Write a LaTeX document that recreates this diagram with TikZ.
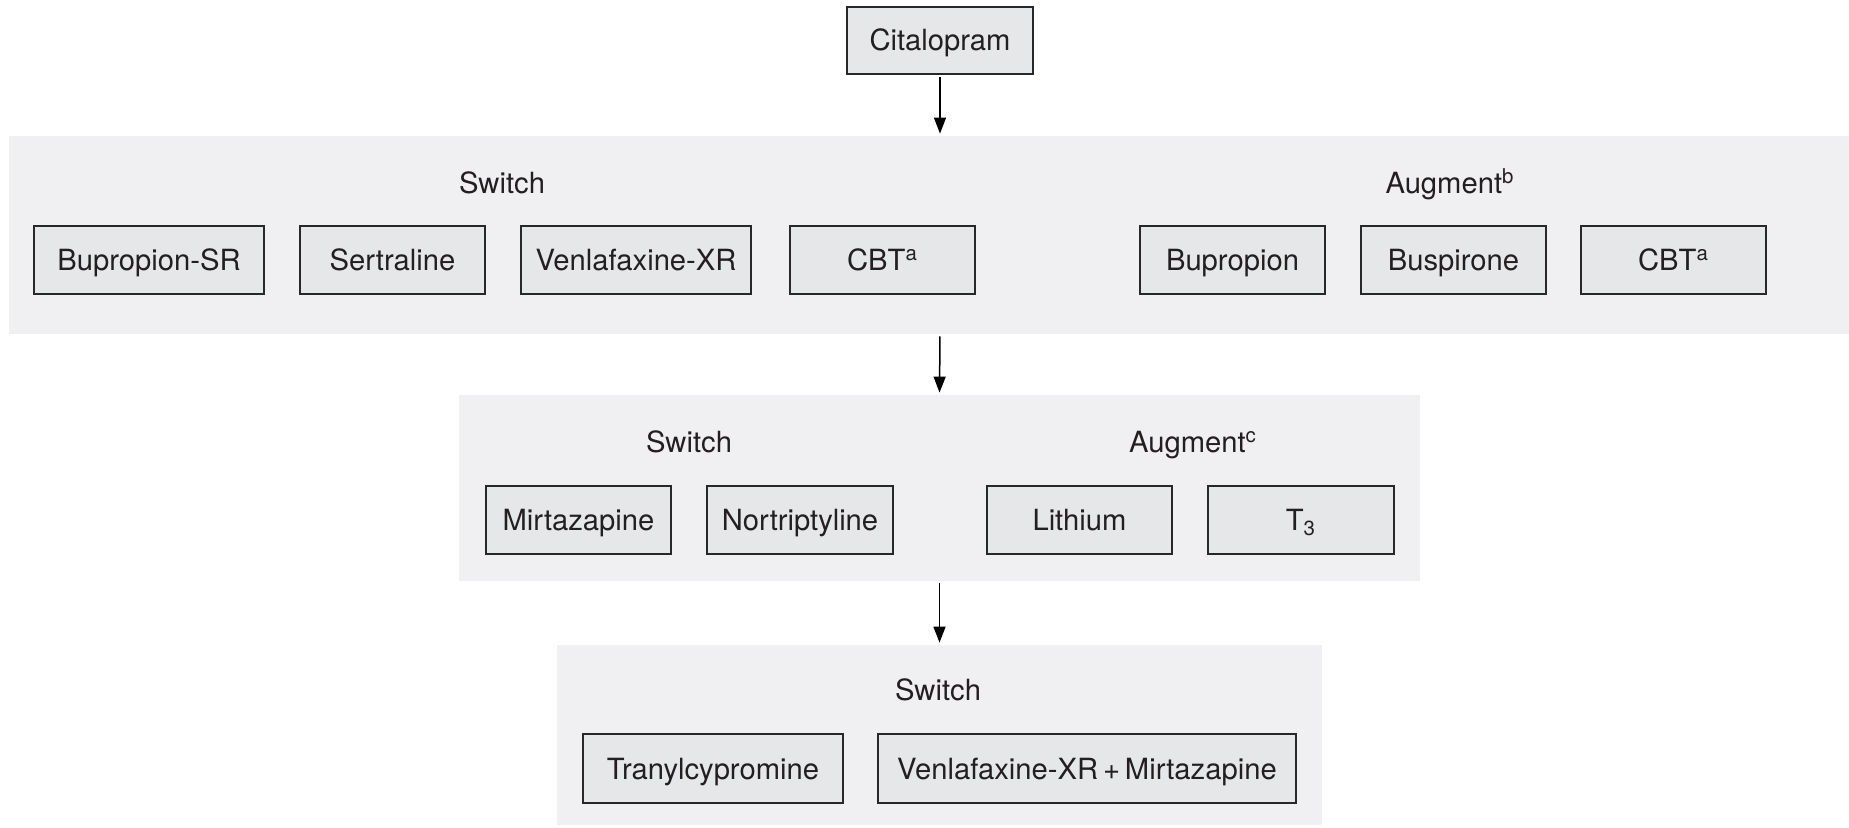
\documentclass[tikz,border=0pt]{standalone}
\usepackage{fontspec}
\setmainfont{TeX Gyre Heros}
\usetikzlibrary{arrows.meta}
\definecolor{bandgray}{RGB}{240,240,242}
\definecolor{boxgray}{RGB}{230,231,233}
\definecolor{edgegray}{RGB}{40,40,40}
\definecolor{inkgray}{RGB}{35,31,32}

\tikzset{
  drug/.style={draw=edgegray,line width=1pt,fill=boxgray,minimum height=34pt,inner sep=0pt,
    text height=10.5pt,text depth=0pt},
  band/.style={fill=bandgray,inner sep=0pt},
  grouplabel/.style={inner sep=0pt,text height=10.5pt,text depth=0pt},
  flow/.style={-{Triangle[length=8pt,width=6pt]},line width=.75pt,shorten <=1pt,shorten >=1pt}
}

\begin{document}
\begin{tikzpicture}[x=.5pt,y=-.5pt,font=\fontsize{14.6}{17}\selectfont,text=inkgray]
    \useasboundingbox (0,0) rectangle (1849,828);
    % grey bands
    \node[band,minimum width=920pt,minimum height=99pt] (b1) at (929,235) {};
    \node[band,minimum width=480.5pt,minimum height=93pt] (b2) at (939.5,488) {};
    \node[band,minimum width=382.5pt,minimum height=90pt] (b3) at (939.5,735) {};
    % start
    \node[drug,minimum width=93pt,minimum height=33.5pt] (cit) at (940,40.5) {Citalopram};
    % first level
    \node[grouplabel] (sw1) at (502,183) {Switch};
    \node[grouplabel] (au1) at (1450,183) {Augment\textsuperscript{b}};
    \node[drug,minimum width=115pt] (bsr) at (149,260) {Bupropion-SR};
    \node[drug,minimum width=92.5pt] (sert) at (392.5,260) {Sertraline};
    \node[drug,minimum width=115pt] (venxr) at (636,260) {Venlafaxine-XR};
    \node[drug,minimum width=92.5pt] (cbtsw) at (882.5,260) {CBT\textsuperscript{a}};
    \node[drug,minimum width=92.5pt] (bup) at (1232.5,260) {Bupropion};
    \node[drug,minimum width=92.5pt] (busp) at (1453.5,260) {Buspirone};
    \node[drug,minimum width=92.5pt] (cbtau) at (1673.5,260) {CBT\textsuperscript{a}};
    % second level
    \node[grouplabel] (sw2) at (689,442) {Switch};
    \node[grouplabel] (au2) at (1193,442) {Augment\textsuperscript{c}};
    \node[drug,minimum width=92.5pt] (mirt) at (578.5,520) {Mirtazapine};
    \node[drug,minimum width=93pt] (nort) at (800,520) {Nortriptyline};
    \node[drug,minimum width=92.5pt] (lith) at (1079.5,520) {Lithium};
    \node[drug,minimum width=93pt] (tthree) at (1301,520) {T\textsubscript{3}};
    % third level
    \node[grouplabel] (sw3) at (938,690) {Switch};
    \node[drug,minimum width=130pt,minimum height=34.5pt] (tranyl) at (713,768.5) {Tranylcypromine};
    \node[drug,minimum width=209pt,minimum height=34.5pt] (venmirt) at (1087,768.5) {Venlafaxine-XR\,+\,Mirtazapine};
    % arrows
    \draw[flow] (cit.south) -- (cit.south |- b1.north);
    \draw[flow] (b1.south -| cit.south) -- (b2.north);
    \draw[flow] (b2.south) -- (b3.north);
  \end{tikzpicture}
\end{document}
